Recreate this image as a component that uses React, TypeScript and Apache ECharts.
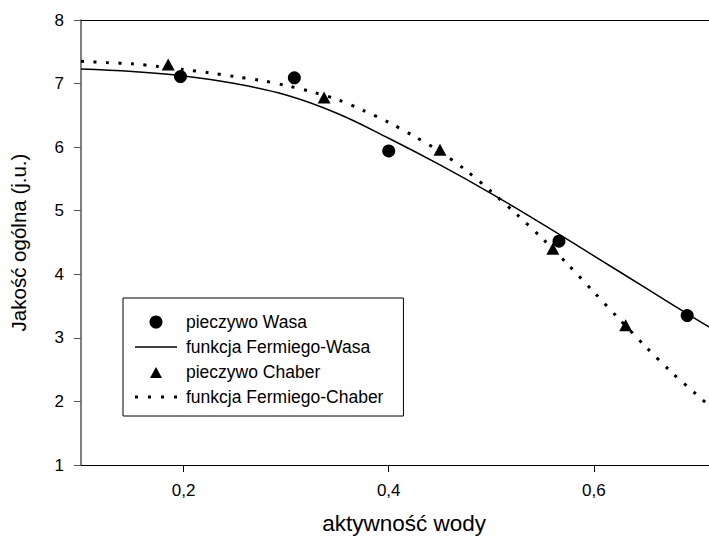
import React, { useEffect, useRef } from "react";
import * as echarts from "echarts";

// Measured points
const waterActivityWasa = [0.197, 0.308, 0.4, 0.566, 0.691];
const qualityWasa = [7.11, 7.09, 5.94, 4.52, 3.35];
const waterActivityChaber = [0.185, 0.337, 0.45, 0.56, 0.631];
const qualityChaber = [7.3, 6.78, 5.96, 4.4, 3.2];

// Fitted Fermi curves
const fermiWasaX = [0.1, 0.15, 0.2, 0.25, 0.3, 0.35, 0.4, 0.45, 0.5, 0.55, 0.6, 0.65, 0.7, 0.72];
const fermiWasaY = [7.23, 7.19, 7.12, 7.0, 6.82, 6.53, 6.14, 5.72, 5.27, 4.79, 4.29, 3.79, 3.29, 3.1];
const fermiChaberX = [
  0.1, 0.125, 0.15, 0.175, 0.2, 0.225, 0.25, 0.275, 0.3, 0.325, 0.35, 0.375, 0.4,
  0.425, 0.45, 0.475, 0.5, 0.525, 0.55, 0.575, 0.6, 0.625, 0.65, 0.675, 0.7, 0.72,
];
const fermiChaberY = [
  7.35, 7.33, 7.31, 7.27, 7.22, 7.17, 7.11, 7.05, 6.97, 6.87, 6.75, 6.58, 6.39,
  6.17, 5.93, 5.64, 5.3, 4.94, 4.56, 4.15, 3.72, 3.29, 2.87, 2.47, 2.11, 1.83,
];

const xTicks = [0.2, 0.4, 0.6];
const seriesNames = [
  "pieczywo Wasa",
  "funkcja Fermiego-Wasa",
  "pieczywo Chaber",
  "funkcja Fermiego-Chaber",
];
const xTitle = "aktywność wody";
const yTitle = "Jakość ogólna (j.u.)";

const FONT = "Liberation Sans, Arial, sans-serif";

const zip = (xs: number[], ys: number[]) => xs.map((x, i) => [x, ys[i]]);

export default function App() {
  const ref = useRef<HTMLDivElement>(null);
  useEffect(() => {
    if (!ref.current) return;
    const chart = echarts.init(ref.current, null, { renderer: "svg" });
    chart.setOption({
      animation: false,
      backgroundColor: "#fff",
      grid: { left: 72, top: 20, bottom: 73, right: 32.8 },
      legend: {
        orient: "vertical",
        left: 123,
        top: 298,
        padding: [15, 20, 10, 12],
        itemGap: 7,
        itemWidth: 42,
        itemHeight: 13,
        borderColor: "#000",
        borderWidth: 1,
        backgroundColor: "#fff",
        textStyle: { fontSize: 17.5, fontFamily: FONT, color: "#000", padding: [0, 0, 0, 4] },
        data: [
          { name: seriesNames[0] },
          { name: seriesNames[1], icon: "path://M0 0H42V1.5H0Z" },
          { name: seriesNames[2], icon: "path://M6 1.5L12 12.5H0Z M0 0L0 0Z M0 13L0 13Z" },
          {
            name: seriesNames[3],
            icon: "path://M0 0h3v3h-3z M13 0h3v3h-3z M26 0h3v3h-3z M39 0h3v3h-3z",
          },
        ],
      },
      xAxis: [
        {
          type: "value",
          min: 0.1,
          max: 0.73,
          position: "bottom",
          splitLine: { show: false },
          axisLine: { show: true, onZero: false, lineStyle: { color: "#000", width: 1 } },
          axisTick: { show: true, length: 7, customValues: xTicks, lineStyle: { color: "#000" } },
          axisLabel: {
            customValues: xTicks,
            margin: 17,
            fontSize: 17,
            fontFamily: FONT,
            color: "#000",
            formatter: (v: number) => v.toFixed(1).replace(".", ","),
          },
          name: xTitle,
          nameLocation: "middle",
          nameGap: 47,
          nameTextStyle: { fontSize: 22.5, fontFamily: FONT, color: "#000" },
        },
        {
          type: "value",
          min: 0.1,
          max: 0.73,
          position: "top",
          splitLine: { show: false },
          axisLine: { show: true, onZero: false, lineStyle: { color: "#000", width: 1 } },
          axisTick: { show: false },
          axisLabel: { show: false },
        },
      ],
      yAxis: {
        type: "value",
        min: 1,
        max: 8,
        interval: 1,
        splitLine: { show: false },
        axisLine: { show: true, onZero: false, lineStyle: { color: "#555", width: 1.5 } },
        axisTick: { show: true, length: 7, lineStyle: { color: "#555" } },
        axisLabel: { margin: 17, fontSize: 17, fontFamily: FONT, color: "#000" },
        name: yTitle,
        nameLocation: "middle",
        nameRotate: 90,
        nameGap: 52,
        nameTextStyle: { fontSize: 20.5, fontFamily: FONT, color: "#000" },
      },
      series: [
        {
          name: seriesNames[0],
          type: "scatter",
          symbol: "circle",
          symbolSize: 13,
          itemStyle: { color: "#000", opacity: 1 },
          data: zip(waterActivityWasa, qualityWasa),
          z: 5,
        },
        {
          name: seriesNames[1],
          type: "line",
          symbol: "none",
          smooth: 0.4,
          lineStyle: { color: "#000", width: 1.5 },
          itemStyle: { color: "#000" },
          data: zip(fermiWasaX, fermiWasaY),
        },
        {
          name: seriesNames[2],
          type: "scatter",
          symbol: "triangle",
          symbolSize: [13, 12],
          itemStyle: { color: "#000", opacity: 1 },
          data: zip(waterActivityChaber, qualityChaber),
          z: 5,
        },
        {
          name: seriesNames[3],
          type: "line",
          symbol: "none",
          smooth: 0.3,
          lineStyle: { color: "#000", width: 3, type: [3, 9.5], cap: "butt" },
          itemStyle: { color: "#000" },
          data: zip(fermiChaberX, fermiChaberY),
        },
      ],
    });
    return () => chart.dispose();
  }, []);
  return (
    <div
      style={{
        position: "fixed",
        left: 0,
        top: 0,
        width: 709,
        height: 540,
        overflow: "hidden",
        background: "#fff",
      }}
    >
      <div ref={ref} style={{ width: 760, height: 540 }} />
    </div>
  );
}
